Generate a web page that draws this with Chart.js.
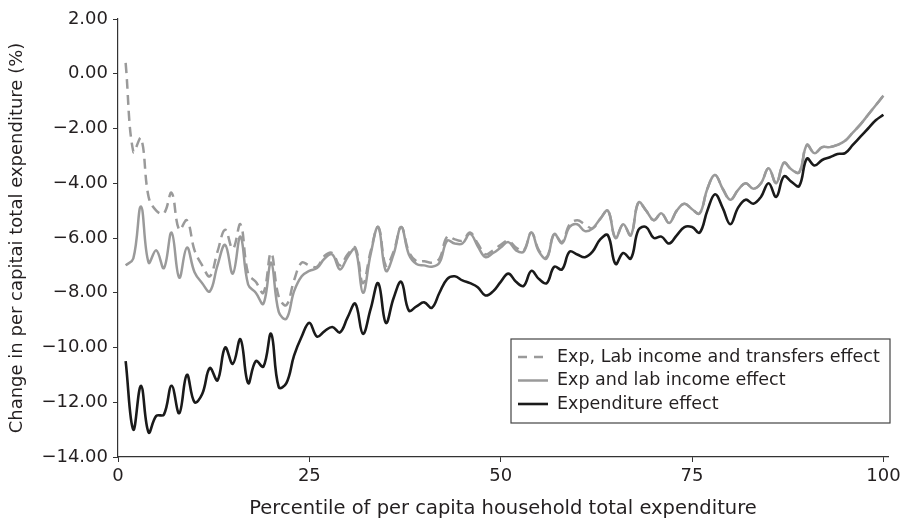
<!DOCTYPE html>
<html>
<head>
<meta charset="utf-8">
<title>Expenditure effect by percentile</title>
<script src="https://cdn.jsdelivr.net/npm/chart.js@4.4.1/dist/chart.umd.min.js"></script>
<style>
    body { margin: 0; background: #fff; }
    #wrap { width: 902px; height: 523px; position: relative; }
</style>
</head>
<body>
<div id="wrap"><canvas id="effectChart"></canvas></div>
<script>
// Percentiles of per capita household total expenditure
const percentiles = Array.from({ length: 100 }, (_, i) => i + 1);

// Exp, Lab income and transfers effect (%)
const transfersEffect = [
    0.4, -2.85, -2.35, -4.5, -5.0, -5.1, -4.35, -5.7, -5.35, -6.45,
    -7.0, -7.4, -6.5, -5.7, -6.4, -5.5, -7.3, -7.6, -8.0, -6.55,
    -8.15, -8.45, -7.55, -6.9, -7.0, -7.05, -6.65, -6.55, -7.0, -6.6,
    -6.35, -7.65, -6.5, -5.6, -7.0, -6.5, -5.6, -6.5, -6.85, -6.85,
    -6.9, -6.75, -5.95, -6.05, -6.1, -5.8, -6.2, -6.6, -6.45, -6.25,
    -6.1, -6.35, -6.45, -5.8, -6.45, -6.7, -5.85, -6.15, -5.5, -5.35,
    -5.5, -5.65, -5.3, -5.0, -6.0, -5.5, -5.9, -4.7, -5.0, -5.35,
    -5.1, -5.45, -5.0, -4.75, -4.95, -5.1, -4.2, -3.7, -4.2, -4.6,
    -4.25, -4.0, -4.2, -4.0, -3.45, -4.0, -3.25, -3.5, -3.6, -2.6,
    -2.9, -2.68, -2.68, -2.6, -2.45, -2.15, -1.85, -1.5, -1.15, -0.8
];

// Exp and lab income effect (%)
const labIncomeEffect = [
    -7.0, -6.75, -4.85, -6.9, -6.45, -7.1, -5.8, -7.45, -6.35, -7.25,
    -7.65, -7.95, -7.0, -6.25, -7.3, -5.95, -7.7, -8.0, -8.4, -6.9,
    -8.7, -8.95, -7.95, -7.4, -7.2, -7.1, -6.75, -6.6, -7.15, -6.7,
    -6.4, -8.0, -6.6, -5.6, -7.2, -6.6, -5.6, -6.6, -6.95, -7.0,
    -7.05, -6.9, -6.1, -6.2, -6.2, -5.85, -6.3, -6.7, -6.55, -6.35,
    -6.15, -6.45, -6.5, -5.8, -6.5, -6.75, -5.85, -6.2, -5.6, -5.5,
    -5.75, -5.65, -5.3, -5.0, -6.0, -5.5, -5.9, -4.7, -5.0, -5.35,
    -5.1, -5.45, -5.0, -4.75, -4.95, -5.1, -4.2, -3.7, -4.2, -4.6,
    -4.25, -4.0, -4.2, -4.0, -3.45, -4.0, -3.25, -3.5, -3.6, -2.6,
    -2.9, -2.68, -2.68, -2.6, -2.45, -2.15, -1.85, -1.5, -1.15, -0.8
];

// Expenditure effect (%)
const expenditureEffect = [
    -10.5, -13.0, -11.4, -13.1, -12.5, -12.45, -11.4, -12.4, -11.0, -12.0,
    -11.7, -10.75, -11.2, -10.0, -10.6, -9.7, -11.3, -10.5, -10.7, -9.5,
    -11.45, -11.3, -10.3, -9.6, -9.1, -9.6, -9.4, -9.25, -9.45, -8.9,
    -8.4, -9.5, -8.6, -7.65, -9.1, -8.2, -7.6, -8.65, -8.5, -8.35,
    -8.55, -8.0, -7.5, -7.4, -7.55, -7.65, -7.8, -8.1, -7.95, -7.6,
    -7.3, -7.6, -7.75, -7.2, -7.5, -7.65, -7.05, -7.15, -6.5, -6.6,
    -6.7, -6.5, -6.05, -5.9, -6.95, -6.55, -6.75, -5.7, -5.6, -6.0,
    -5.95, -6.2, -5.9, -5.6, -5.6, -5.8, -5.0, -4.4, -4.9, -5.5,
    -4.9, -4.6, -4.75, -4.5, -4.0, -4.5, -3.75, -3.95, -4.1, -3.1,
    -3.35, -3.15, -3.05, -2.93, -2.9, -2.6, -2.3, -2.0, -1.7, -1.5
];

const seriesLabels = [
    'Exp, Lab income and transfers effect',
    'Exp and lab income effect',
    'Expenditure effect'
];

const xTicks = [0, 25, 50, 75, 100];
const yTicks = [2, 0, -2, -4, -6, -8, -10, -12, -14];

const FONT = '"DejaVu Sans", "Open Sans", sans-serif';
const INK = '#231f20';
const GREY = '#9a9a9a';

function toPoints(values) {
    return values.map((v, i) => ({ x: percentiles[i], y: v }));
}

// minus sign like the print version: −2.00
function fmtTick(v) {
    const s = Math.abs(v).toFixed(2);
    return v < 0 ? '\u2212' + s : s;
}

// legend box drawn inside the plot, lower right
const boxLegend = {
    id: 'boxLegend',
    afterDraw(chart) {
        const ctx = chart.ctx;
        const area = chart.chartArea;
        const left = area.right - 377;
        const top = area.bottom - 118;
        const w = 379;
        const h = 84;

        ctx.save();
        ctx.fillStyle = '#fff';
        ctx.fillRect(left, top, w, h);
        ctx.strokeStyle = '#444';
        ctx.lineWidth = 1.2;
        ctx.strokeRect(left, top, w, h);

        ctx.font = '17.5px ' + FONT;
        ctx.textBaseline = 'middle';
        ctx.fillStyle = INK;

        chart.data.datasets.forEach((ds, i) => {
            const y = top + 18 + i * 23.5;
            ctx.beginPath();
            ctx.strokeStyle = ds.borderColor;
            ctx.lineWidth = ds.borderWidth;
            ctx.setLineDash(ds.borderDash ? [9, 7] : []);
            ctx.moveTo(left + 7, y);
            ctx.lineTo(left + 37, y);
            ctx.stroke();
            ctx.setLineDash([]);
            ctx.fillText(ds.label, left + 46, y);
        });
        ctx.restore();
    }
};

const ctx = document.getElementById('effectChart').getContext('2d');

new Chart(ctx, {
    type: 'line',
    data: {
        datasets: [
            {
                label: seriesLabels[0],
                data: toPoints(transfersEffect),
                borderColor: GREY,
                borderWidth: 2.5,
                borderDash: [10, 6],
                order: 3
            },
            {
                label: seriesLabels[1],
                data: toPoints(labIncomeEffect),
                borderColor: GREY,
                borderWidth: 2.5,
                order: 2
            },
            {
                label: seriesLabels[2],
                data: toPoints(expenditureEffect),
                borderColor: '#1a1a1a',
                borderWidth: 2.6,
                order: 1
            }
        ]
    },
    options: {
        responsive: true,
        maintainAspectRatio: false,
        animation: false,
        layout: { padding: { top: 19, right: 14, left: 0, bottom: 0 } },
        elements: {
            point: { radius: 0 },
            line: { tension: 0.4, fill: false }
        },
        plugins: {
            legend: { display: false },
            tooltip: { enabled: false }
        },
        scales: {
            x: {
                type: 'linear',
                min: 0,
                max: 100.6,
                afterBuildTicks: scale => {
                    scale.ticks = xTicks.map(v => ({ value: v }));
                },
                afterFit: scale => {
                    scale.height = 66;
                    // the tick labels may run past the plot edges
                    scale.paddingLeft = 0;
                    scale.paddingRight = 0;
                },
                ticks: {
                    color: INK,
                    font: { family: FONT, size: 18 },
                    padding: 4,
                    maxRotation: 0
                },
                grid: {
                    drawOnChartArea: false,
                    tickLength: 5,
                    color: '#333'
                },
                border: { color: '#333', width: 1.2 },
                title: {
                    display: true,
                    text: 'Percentile of per capita household total expenditure',
                    color: INK,
                    font: { family: FONT, size: 19.5 },
                    padding: { top: 0, bottom: 2 }
                }
            },
            y: {
                min: -14,
                max: 2,
                afterBuildTicks: scale => {
                    scale.ticks = yTicks.map(v => ({ value: v }));
                },
                afterFit: scale => {
                    scale.width = 118;
                    scale.paddingTop = 0;
                    scale.paddingBottom = 0;
                },
                ticks: {
                    color: INK,
                    font: { family: FONT, size: 18 },
                    padding: 5,
                    callback: v => fmtTick(v)
                },
                grid: {
                    drawOnChartArea: false,
                    tickLength: 5,
                    color: '#333'
                },
                border: { color: '#333', width: 1.2 },
                title: {
                    display: true,
                    text: 'Change in per capitai total expenditure (%)',
                    color: INK,
                    font: { family: FONT, size: 18 },
                    padding: { top: 7, bottom: 0 }
                }
            }
        }
    },
    plugins: [boxLegend]
});
</script>
</body>
</html>
